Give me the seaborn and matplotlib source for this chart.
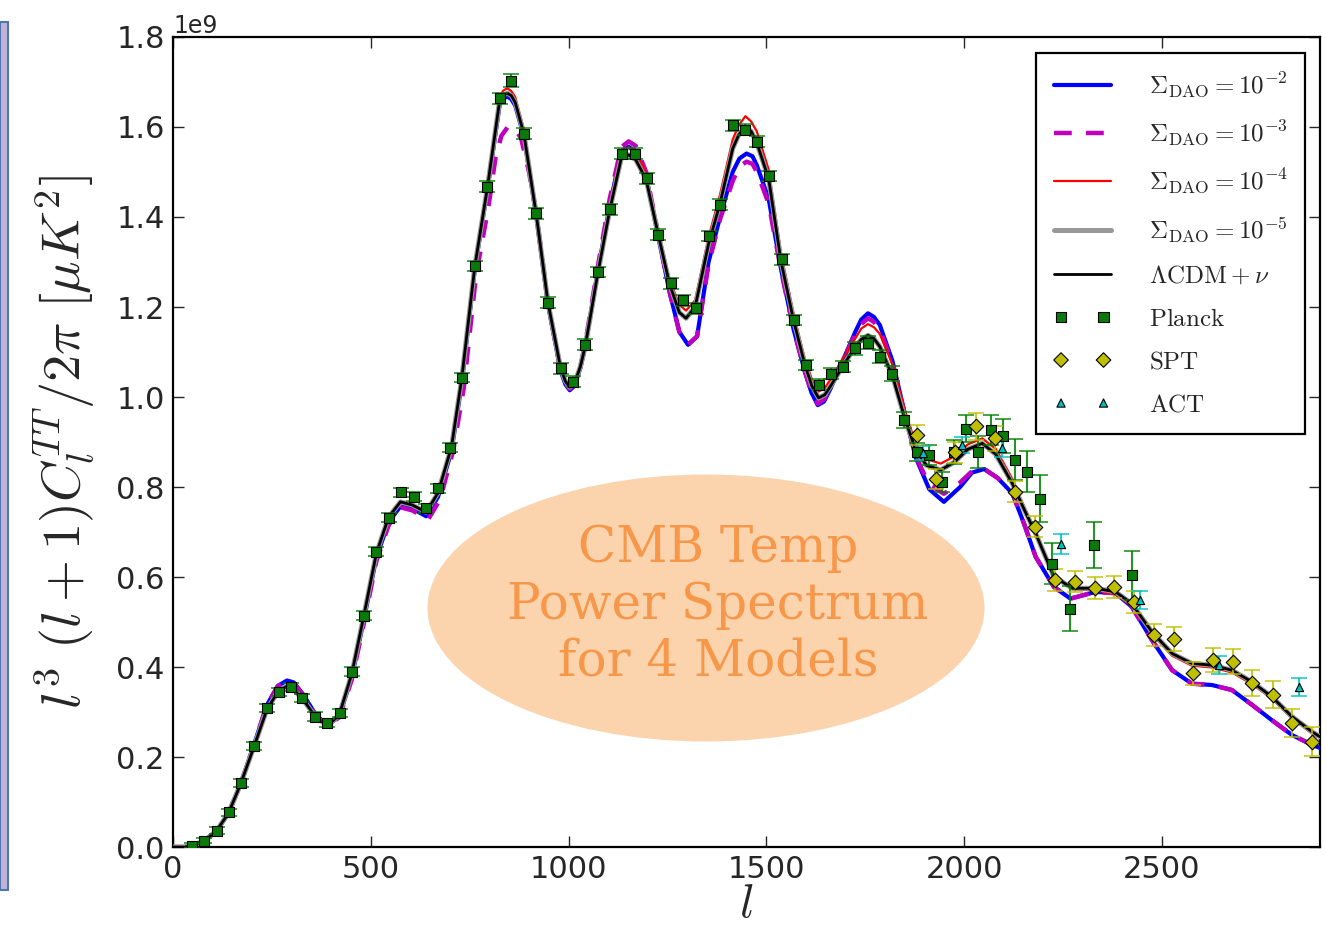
import numpy as np
import pandas as pd
import matplotlib
matplotlib.use("Agg")
import matplotlib.pyplot as plt
from matplotlib.patches import Ellipse, Rectangle
import seaborn as sns

# ---------------- data (values in units of 1e9) ----------------
l_lcdm = [0, 30, 50, 80, 110, 140, 170, 205, 237, 265, 285, 300, 327, 360, 390, 420, 452, 482, 514, 545,
          575, 605, 640, 670, 704, 730, 763, 795, 826, 835, 845, 855, 865, 887, 918, 948, 980, 992, 1003,
          1015, 1030, 1042, 1074, 1104, 1133, 1152, 1170, 1196, 1227, 1255, 1280, 1297, 1320, 1354, 1383,
          1415, 1430, 1447, 1462, 1476, 1506, 1537, 1569, 1598, 1615, 1632, 1648, 1663, 1693, 1725, 1740,
          1757, 1772, 1787, 1819, 1851, 1878, 1905, 1941, 1975, 2010, 2046, 2080, 2122, 2151, 2181, 2227,
          2274, 2333, 2383, 2424, 2475, 2526, 2576, 2627, 2677, 2728, 2778, 2829, 2880, 2900]
v_lcdm = [0.0, 0.0, 0.004, 0.014, 0.036, 0.075, 0.138, 0.224, 0.305, 0.345, 0.356, 0.354, 0.330, 0.290,
          0.270, 0.293, 0.385, 0.512, 0.652, 0.733, 0.767, 0.760, 0.744, 0.787, 0.889, 1.041, 1.290, 1.466,
          1.660, 1.671, 1.675, 1.670, 1.655, 1.585, 1.408, 1.210, 1.064, 1.035, 1.022, 1.030, 1.068, 1.112,
          1.275, 1.415, 1.530, 1.538, 1.527, 1.484, 1.360, 1.252, 1.188, 1.175, 1.200, 1.340, 1.430, 1.552,
          1.582, 1.600, 1.590, 1.565, 1.485, 1.302, 1.170, 1.070, 1.025, 0.998, 1.005, 1.025, 1.068, 1.112,
          1.128, 1.137, 1.130, 1.112, 1.047, 0.950, 0.882, 0.848, 0.838, 0.855, 0.884, 0.897, 0.873, 0.808,
          0.752, 0.697, 0.601, 0.575, 0.575, 0.567, 0.541, 0.478, 0.430, 0.408, 0.404, 0.393, 0.367, 0.334,
          0.290, 0.256, 0.245]

l_m2 = [0, 30, 50, 80, 110, 140, 170, 205, 237, 265, 288, 305, 330, 360, 390, 420, 452, 482, 514, 545,
        575, 605, 640, 670, 704, 730, 763, 795, 826, 835, 845, 855, 865, 887, 918, 948, 980, 992, 1003,
        1015, 1030, 1042, 1074, 1104, 1133, 1152, 1170, 1196, 1227, 1255, 1280, 1302, 1325, 1354, 1383,
        1415, 1432, 1450, 1465, 1476, 1506, 1537, 1569, 1598, 1614, 1630, 1646, 1663, 1693, 1725, 1740,
        1757, 1772, 1787, 1819, 1851, 1878, 1912, 1949, 1990, 2020, 2051, 2085, 2122, 2151, 2181, 2227,
        2269, 2333, 2383, 2424, 2475, 2526, 2576, 2627, 2677, 2728, 2778, 2829, 2880, 2900]
v_m2 = [0.0, 0.0, 0.004, 0.014, 0.036, 0.075, 0.138, 0.228, 0.315, 0.358, 0.370, 0.366, 0.338, 0.295,
        0.270, 0.290, 0.378, 0.503, 0.643, 0.722, 0.757, 0.752, 0.735, 0.778, 0.880, 1.030, 1.285, 1.462,
        1.650, 1.663, 1.668, 1.662, 1.648, 1.580, 1.405, 1.205, 1.058, 1.028, 1.015, 1.025, 1.065, 1.112,
        1.280, 1.425, 1.545, 1.556, 1.545, 1.490, 1.355, 1.235, 1.145, 1.116, 1.135, 1.300, 1.400, 1.500,
        1.530, 1.541, 1.535, 1.515, 1.440, 1.285, 1.150, 1.055, 1.010, 0.982, 0.990, 1.020, 1.080, 1.145,
        1.172, 1.186, 1.178, 1.160, 1.080, 0.960, 0.865, 0.795, 0.767, 0.800, 0.832, 0.840, 0.820, 0.786,
        0.720, 0.645, 0.578, 0.552, 0.567, 0.564, 0.534, 0.460, 0.393, 0.363, 0.360, 0.349, 0.316, 0.282,
        0.249, 0.227, 0.220]

l_m3 = [0, 30, 50, 80, 110, 140, 170, 205, 237, 265, 288, 305, 330, 360, 390, 420, 452, 482, 514, 545,
        575, 605, 645, 675, 708, 735, 766, 797, 815, 830, 847, 865, 880, 900, 918, 948, 980, 992, 1003,
        1015, 1030, 1042, 1074, 1104, 1133, 1152, 1170, 1196, 1227, 1255, 1280, 1302, 1325, 1354, 1383,
        1415, 1432, 1450, 1465, 1476, 1506, 1537, 1569, 1598, 1614, 1630, 1646, 1663, 1693, 1725, 1740,
        1757, 1772, 1787, 1819, 1851, 1878, 1912, 1949, 1990, 2020, 2051, 2085, 2122, 2151, 2181, 2227,
        2269, 2333, 2383, 2424, 2475, 2526, 2576, 2627, 2677, 2728, 2778, 2829, 2880, 2900]
v_m3 = [0.0, 0.0, 0.004, 0.014, 0.036, 0.075, 0.138, 0.228, 0.315, 0.358, 0.368, 0.364, 0.336, 0.294,
        0.270, 0.288, 0.372, 0.495, 0.635, 0.715, 0.755, 0.748, 0.728, 0.772, 0.880, 1.020, 1.270, 1.420,
        1.530, 1.580, 1.601, 1.595, 1.575, 1.500, 1.410, 1.210, 1.058, 1.030, 1.018, 1.028, 1.068, 1.118,
        1.290, 1.440, 1.555, 1.568, 1.558, 1.500, 1.360, 1.235, 1.145, 1.116, 1.135, 1.295, 1.395, 1.480,
        1.512, 1.523, 1.518, 1.500, 1.430, 1.282, 1.150, 1.055, 1.012, 0.985, 0.995, 1.022, 1.080, 1.140,
        1.162, 1.175, 1.167, 1.150, 1.075, 0.958, 0.868, 0.805, 0.785, 0.810, 0.835, 0.840, 0.820, 0.786,
        0.720, 0.645, 0.578, 0.552, 0.567, 0.564, 0.534, 0.460, 0.393, 0.363, 0.360, 0.349, 0.316, 0.282,
        0.249, 0.227, 0.220]

l_m4 = list(l_lcdm)
v_m4 = [0.0, 0.0, 0.004, 0.014, 0.036, 0.075, 0.138, 0.224, 0.305, 0.345, 0.356, 0.354, 0.330, 0.290,
        0.270, 0.293, 0.385, 0.512, 0.652, 0.733, 0.767, 0.760, 0.744, 0.787, 0.889, 1.045, 1.298, 1.476,
        1.668, 1.681, 1.686, 1.680, 1.667, 1.595, 1.418, 1.215, 1.066, 1.038, 1.025, 1.034, 1.072, 1.118,
        1.285, 1.428, 1.545, 1.555, 1.545, 1.498, 1.372, 1.262, 1.205, 1.192, 1.215, 1.355, 1.450, 1.572,
        1.603, 1.624, 1.612, 1.590, 1.505, 1.320, 1.185, 1.082, 1.040, 1.012, 1.020, 1.040, 1.085, 1.130,
        1.152, 1.162, 1.155, 1.140, 1.072, 0.968, 0.895, 0.862, 0.852, 0.868, 0.895, 0.908, 0.885, 0.818,
        0.758, 0.700, 0.602, 0.573, 0.570, 0.562, 0.535, 0.473, 0.425, 0.403, 0.399, 0.388, 0.362, 0.330,
        0.286, 0.252, 0.242]

# data points
planck_l = [47, 79, 110, 142, 172, 205, 237, 267, 297, 327, 359, 390, 422, 452, 482, 514, 545, 576, 608,
            639, 670, 701, 731, 763, 795, 826, 855, 887, 918, 948, 980, 1011, 1042, 1074, 1104, 1135,
            1167, 1198, 1227, 1258, 1290, 1321, 1354, 1383, 1415, 1447, 1476, 1508, 1540, 1571, 1600,
            1632, 1663, 1694, 1725, 1757, 1787, 1817, 1849, 1880, 1912, 1944, 1975, 2004, 2035, 2067,
            2098, 2129, 2160, 2191, 2223, 2267, 2328, 2425]
planck_v = [0.003, 0.014, 0.036, 0.077, 0.142, 0.224, 0.309, 0.345, 0.356, 0.331, 0.290, 0.275, 0.297,
            0.389, 0.514, 0.656, 0.732, 0.788, 0.778, 0.753, 0.797, 0.887, 1.043, 1.291, 1.467, 1.664,
            1.703, 1.585, 1.408, 1.210, 1.064, 1.034, 1.116, 1.278, 1.417, 1.541, 1.541, 1.486, 1.361,
            1.253, 1.215, 1.197, 1.358, 1.427, 1.604, 1.594, 1.567, 1.491, 1.306, 1.171, 1.071, 1.027,
            1.052, 1.067, 1.108, 1.121, 1.090, 1.052, 0.949, 0.878, 0.871, 0.811, 0.878, 0.930, 0.878,
            0.927, 0.914, 0.861, 0.834, 0.774, 0.630, 0.530, 0.671, 0.604]
planck_e = [0.005, 0.006, 0.008, 0.008, 0.009, 0.009, 0.009, 0.009, 0.009, 0.009, 0.009, 0.009, 0.009,
            0.010, 0.010, 0.010, 0.010, 0.010, 0.010, 0.010, 0.010, 0.010, 0.010, 0.012, 0.012, 0.012,
            0.015, 0.012, 0.012, 0.012, 0.012, 0.012, 0.012, 0.012, 0.012, 0.012, 0.012, 0.012, 0.012,
            0.012, 0.012, 0.012, 0.012, 0.012, 0.012, 0.012, 0.012, 0.012, 0.012, 0.012, 0.012, 0.012,
            0.012, 0.012, 0.014, 0.014, 0.015, 0.016, 0.018, 0.020, 0.022, 0.022, 0.026, 0.031, 0.035,
            0.033, 0.038, 0.045, 0.046, 0.052, 0.046, 0.050, 0.052, 0.054]

spt_l = [1880, 1930, 1977, 2029, 2078, 2129, 2179, 2229, 2280, 2331, 2380, 2429, 2479, 2530, 2579, 2630,
         2680, 2729, 2780, 2829, 2880]
spt_v = [0.916, 0.818, 0.877, 0.935, 0.908, 0.790, 0.712, 0.593, 0.590, 0.576, 0.578, 0.545, 0.471,
         0.462, 0.386, 0.416, 0.412, 0.365, 0.338, 0.275, 0.234]
spt_e = [0.022, 0.022, 0.024, 0.030, 0.028, 0.024, 0.024, 0.024, 0.024, 0.024, 0.024, 0.025, 0.025,
         0.026, 0.026, 0.027, 0.028, 0.029, 0.030, 0.031, 0.032]

act_l = [1895, 1994, 2095, 2244, 2446, 2644, 2846]
act_v = [0.876, 0.893, 0.886, 0.674, 0.549, 0.404, 0.356]
act_e = [0.015, 0.018, 0.020, 0.022, 0.020, 0.020, 0.020]

legend_labels = [r"$\Sigma_{\rm DAO}=10^{-2}$", r"$\Sigma_{\rm DAO}=10^{-3}$", r"$\Sigma_{\rm DAO}=10^{-4}$",
                 r"$\Sigma_{\rm DAO}=10^{-5}$", r"$\Lambda{\rm CDM}+\nu$", r"$\rm Planck$", r"$\rm SPT$",
                 r"$\rm ACT$"]
x_ticks = [0, 500, 1000, 1500, 2000, 2500]
y_ticks = [0.0, 0.2, 0.4, 0.6, 0.8, 1.0, 1.2, 1.4, 1.6, 1.8]
SCALE = 1e9

# ---------------- style ----------------
sns.set_style("ticks")
plt.rcParams.update({
    "font.family": ["DejaVu Sans"],
    "mathtext.fontset": "cm",
    "xtick.direction": "in", "ytick.direction": "in",
    "xtick.top": True, "ytick.right": True,
    "xtick.major.size": 8, "ytick.major.size": 8,
    "xtick.major.width": 1.0, "ytick.major.width": 1.0,
    "axes.linewidth": 1.6, "axes.edgecolor": "black",
})

fig = plt.figure(figsize=(13.26, 9.34), dpi=100)
ax = fig.add_axes([0.1305, 0.0931, 0.865, 0.8673])


def s(v):
    return [x * SCALE for x in v]


sns.lineplot(x=l_m2, y=s(v_m2), ax=ax, color="#0000ff", lw=3.0, label=legend_labels[0],
             zorder=3, sort=False)
sns.lineplot(x=l_m3, y=s(v_m3), ax=ax, color="#bf00bf", lw=3.2, linestyle=(0, (4, 3.2)),
             label=legend_labels[1], zorder=4, sort=False)
sns.lineplot(x=l_m4, y=s(v_m4), ax=ax, color="#ff0000", lw=1.6, label=legend_labels[2],
             zorder=5, sort=False)
sns.lineplot(x=l_lcdm, y=s(v_lcdm), ax=ax, color="#999999", lw=3.6, label=legend_labels[3],
             zorder=6, sort=False)
sns.lineplot(x=l_lcdm, y=s(v_lcdm), ax=ax, color="black", lw=2.0, label=legend_labels[4],
             zorder=7, sort=False)

# error bars
ax.errorbar(planck_l, s(planck_v), yerr=s(planck_e), fmt="none", ecolor="#008000", elinewidth=1.5,
            capsize=6, capthick=1.2, zorder=8, alpha=0.85)
ax.errorbar(spt_l, s(spt_v), yerr=s(spt_e), fmt="none", ecolor="#bfbf00", elinewidth=1.5,
            capsize=6, capthick=1.2, zorder=8, alpha=0.85)
ax.errorbar(act_l, s(act_v), yerr=s(act_e), fmt="none", ecolor="#00bfbf", elinewidth=1.5,
            capsize=6, capthick=1.2, zorder=8, alpha=0.85)

sns.scatterplot(x=planck_l, y=s(planck_v), ax=ax, marker="s", s=55, color="#0a7a0a", edgecolor="black",
                linewidth=0.8, label=legend_labels[5], zorder=9)
sns.scatterplot(x=spt_l, y=s(spt_v), ax=ax, marker="D", s=55, color="#bfbf00", edgecolor="black",
                linewidth=0.8, label=legend_labels[6], zorder=9)
sns.scatterplot(x=act_l, y=s(act_v), ax=ax, marker="^", s=35, color="#00bfbf", edgecolor="black",
                linewidth=0.8, label=legend_labels[7], zorder=9)

ax.set_xlim(0, 2900)
ax.set_ylim(0, 1.8 * SCALE)
ax.set_xticks(x_ticks)
ax.set_yticks([v * SCALE for v in y_ticks])
ax.tick_params(labelsize=22, pad=6)
ax.yaxis.get_offset_text().set_fontsize(17)

ax.set_xlabel(r"$l$", fontsize=34)
ax.set_ylabel(r"$l^3\ (l+1)C_l^{TT}/2\pi\ [\mu K^2]$", fontsize=39)
ax.yaxis.set_label_coords(-0.066, 0.5)
ax.xaxis.set_label_coords(0.5, -0.043)

handles, _ = ax.get_legend_handles_labels()
leg = ax.legend(handles, legend_labels, loc="upper right", bbox_to_anchor=(0.987, 0.980), borderaxespad=0,
                fontsize=18, frameon=True, fancybox=False, edgecolor="black", framealpha=1.0,
                handlelength=2.3, handletextpad=1.5, labelspacing=0.76, borderpad=0.7,
                scatterpoints=2, scatteryoffsets=[0.5])
leg.get_frame().set_linewidth(1.6)

# slide decorations
fig.add_artist(Ellipse((706 / 1326, 1 - 608 / 934), 557 / 1326, 267 / 934, transform=fig.transFigure,
                       facecolor="#fbd3ad", edgecolor="none", zorder=10))
fig.text(718 / 1326, 1 - 605 / 934, "CMB Temp\nPower Spectrum\nfor 4 Models", ha="center", va="center",
         fontsize=36, color="#f7974a", family="DejaVu Serif", linespacing=1.18, zorder=11)
fig.add_artist(Rectangle((0, 1 - 890 / 934), 8 / 1326, 868 / 934, transform=fig.transFigure,
                         facecolor="#c1b4d8", edgecolor="#4f76b0", lw=1.5, zorder=10))

fig.savefig("out.png", dpi=100)
